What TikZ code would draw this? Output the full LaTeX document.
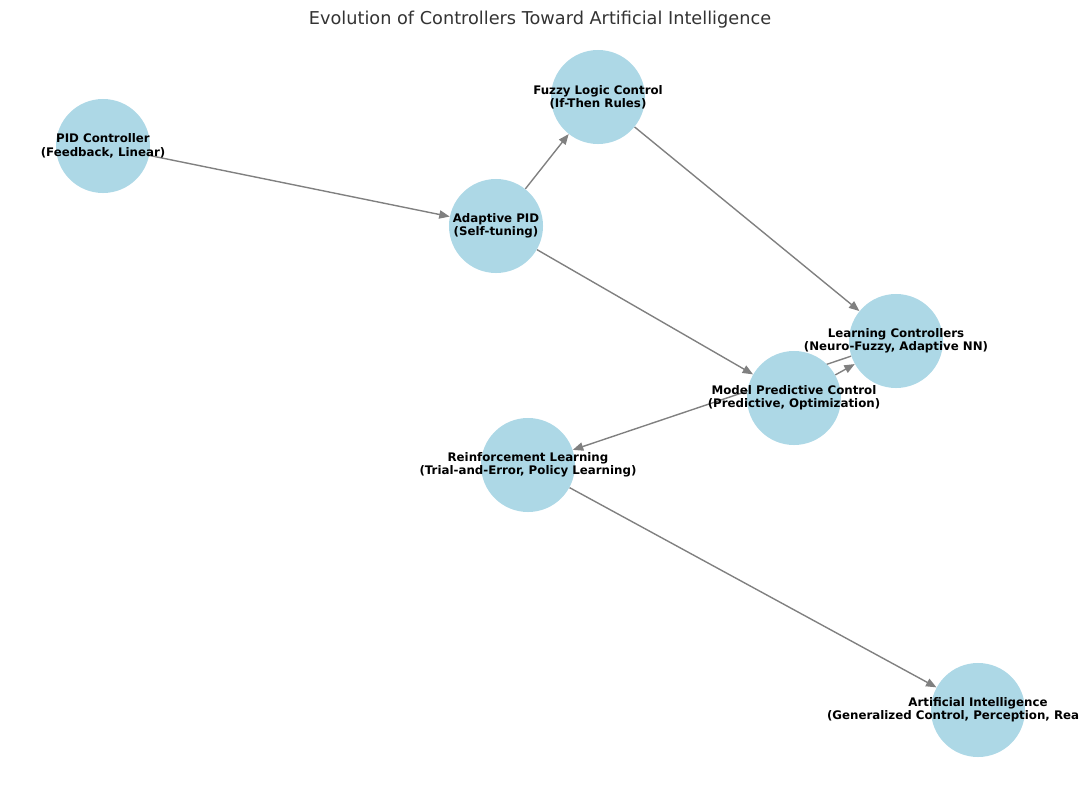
\documentclass[tikz,border=0pt]{standalone}
\usepackage{fontspec}
\setmainfont{DejaVu Sans}
\usetikzlibrary{arrows.meta}
\pgfdeclarelayer{background}
\pgfsetlayers{background,main}
\definecolor{nodeblue}{HTML}{ADD8E6}
\definecolor{titlegray}{HTML}{333333}
\tikzset{
  ctrl/.style={circle, fill=nodeblue, minimum size=67.7pt, inner sep=0pt},
  lbl/.style={font=\fontsize{8.5}{9.6}\selectfont\bfseries, align=center, inner sep=0pt},
  flow/.style={draw=gray, line width=1pt, -{Triangle[length=7.5pt,width=6pt]}}
}
\begin{document}
\begin{tikzpicture}[x=0.72pt,y=-0.72pt]
  %Frame of the figure
  \useasboundingbox (0,0) rectangle (1079,785);
  %Title
  \node[font=\fontsize{12.75}{15}\selectfont, text=titlegray, anchor=base] (title) at (540,24) {Evolution of Controllers Toward Artificial Intelligence};

  %Controllers
  \node[ctrl] (pid) at (103,146) {};
  \node[ctrl] (adapt) at (496,226) {};
  \node[ctrl] (fuzzy) at (598,97) {};
  \node[ctrl] (learn) at (896,341) {};
  \node[ctrl] (mpc) at (794,398) {};
  \node[ctrl] (rl) at (528,465) {};
  \node[ctrl] (ai) at (978,710) {};

  %Evolution steps (behind the circles)
  \begin{pgfonlayer}{background}
    \draw[flow] (pid) -- (adapt);
    \draw[flow] (adapt) -- (fuzzy);
    \draw[flow] (adapt) -- (mpc);
    \draw[flow] (fuzzy) -- (learn);
    \draw[flow] (mpc) -- (learn);
    \draw[flow] (learn) -- (rl);
    \draw[flow] (rl) -- (ai);
  \end{pgfonlayer}

  %Names of the controllers
  \node[lbl] (pid-t) at (pid) {PID Controller\\(Feedback, Linear)};
  \node[lbl] (adapt-t) at (adapt) {Adaptive PID\\(Self-tuning)};
  \node[lbl] (fuzzy-t) at (fuzzy) {Fuzzy Logic Control\\(If-Then Rules)};
  \node[lbl] (learn-t) at (learn) {Learning Controllers\\(Neuro-Fuzzy, Adaptive NN)};
  \node[lbl] (mpc-t) at (mpc) {Model Predictive Control\\(Predictive, Optimization)};
  \node[lbl] (rl-t) at (rl) {Reinforcement Learning\\(Trial-and-Error, Policy Learning)};
  \node[lbl] (ai-t) at (ai) {Artificial Intelligence\\(Generalized Control, Perception, Reasoning)};
\end{tikzpicture}
\end{document}
